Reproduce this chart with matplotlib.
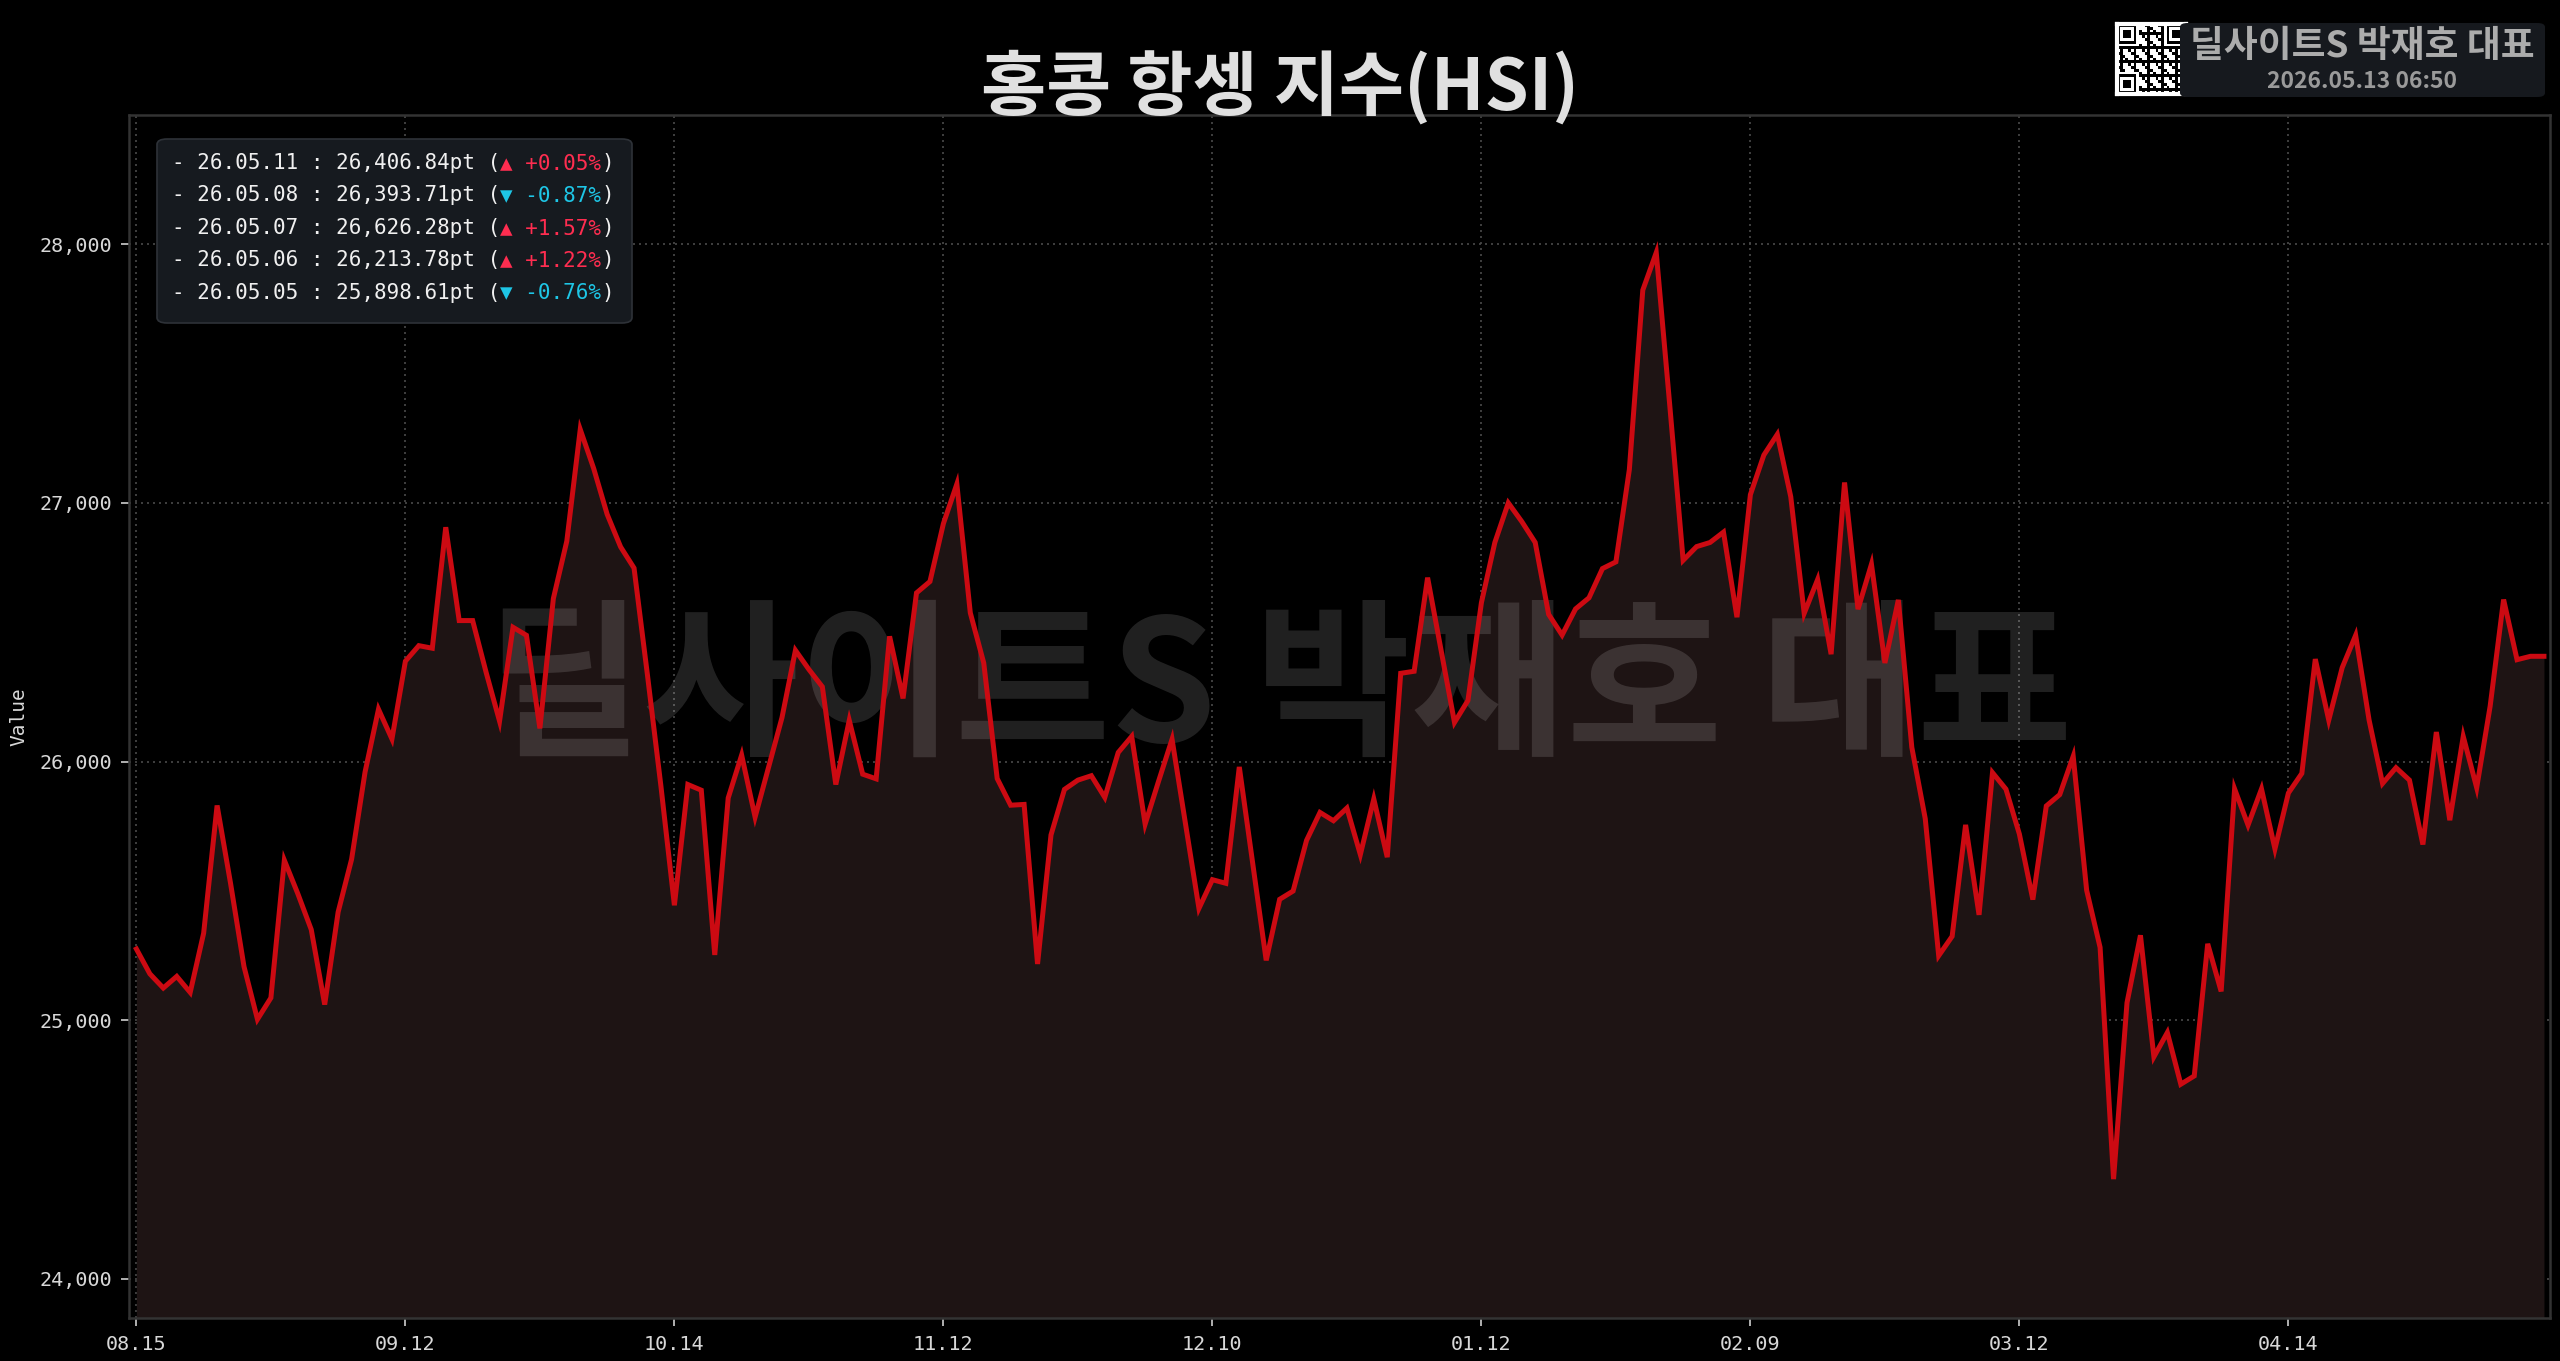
import numpy as np
import matplotlib
matplotlib.use("Agg")
import matplotlib.pyplot as plt
from matplotlib.patches import FancyBboxPatch
from matplotlib.text import Annotation

# ---------------- data ----------------
hsi_values = [
    25275, 25179, 25124, 25169, 25107, 25336, 25830, 25529, 25207, 25003,
    25086, 25618, 25489, 25350, 25060, 25418, 25622, 25959, 26202, 26087,
    26388, 26448, 26438, 26906, 26545, 26545, 26345, 26156, 26519, 26488,
    26128, 26630, 26852, 27284, 27133, 26956, 26830, 26748, 26333, 25904,
    25444, 25911, 25889, 25252, 25859, 26025, 25785, 25978, 26170, 26430,
    26356, 26289, 25911, 26159, 25951, 25933, 26484, 26244, 26652, 26696,
    26920, 27073, 26575, 26381, 25934, 25831, 25834, 25217, 25716, 25892,
    25928, 25945, 25861, 26035, 26097, 25758, 25924, 26086, 25759, 25432,
    25543, 25529, 25979, 25605, 25231, 25467, 25499, 25695, 25803, 25771,
    25820, 25640, 25855, 25630, 26341, 26349, 26711, 26430, 26151, 26236,
    26614, 26847, 27000, 26928, 26847, 26569, 26489, 26590, 26633, 26746,
    26772, 27129, 27823, 27968, 27380, 26778, 26831, 26847, 26887, 26558,
    27032, 27185, 27265, 27024, 26573, 26704, 26415, 27079, 26589, 26763,
    26381, 26625, 26055, 25779, 25249, 25324, 25755, 25407, 25957, 25893,
    25719, 25466, 25828, 25872, 26020, 25502, 25281, 24385, 25067, 25328,
    24858, 24952, 24752, 24784, 25295, 25111, 25894, 25754, 25894, 25662,
    25878, 25954, 26396, 26160, 26363, 26488, 26160, 25915, 25976, 25928,
    25679, 26114, 25773, 26097, 25898.61, 26213.78, 26626.28, 26393.71, 26406.84, 26406.84,
]
x_tick_labels = ['08.15', '09.12', '10.14', '11.12', '12.10', '01.12', '02.09', '03.12', '04.14']
x_tick_step = 20
y_ticks = [24000, 25000, 26000, 27000, 28000]

recent_dates = ['26.05.11', '26.05.08', '26.05.07', '26.05.06', '26.05.05']
recent_values = [26406.84, 26393.71, 26626.28, 26213.78, 25898.61]
recent_pct = [0.05, -0.87, 1.57, 1.22, -0.76]

title_text = '홍콩 항셍 지수(HSI)'
brand_text = '딜사이트S 박재호 대표'
stamp_text = '2026.05.13 06:50'

# ---------------- style ----------------
W, H = 2560, 1361
BG = '#000000'
LINE = '#cc0a12'
FILL = '#1e1414'
TXT = '#d8d8d8'
UP = '#ff2d50'
DOWN = '#1ec6e6'
KR = ['Noto Sans CJK KR', 'DejaVu Sans']
MONO = ['DejaVu Sans Mono', 'DejaVu Sans']

def fx(px):
    return px / W

def fy(py):
    return 1 - py / H

fig = plt.figure(figsize=(W / 100, H / 100), dpi=100, facecolor=BG)

ax_l, ax_r, ax_t, ax_b = 129, 2550, 114.5, 1318
ax = fig.add_axes([fx(ax_l), fy(ax_b), fx(ax_r - ax_l), (ax_b - ax_t) / H])
ax.set_facecolor(BG)

x = np.arange(len(hsi_values))
y = np.array(hsi_values, dtype=float)
ymin, ymax = 23848, 28502

ax.fill_between(x, y, ymin, color=FILL, zorder=1, linewidth=0)
ax.plot(x, y, color=LINE, lw=3.6, zorder=3, solid_joinstyle='miter')

ax.set_xlim(-0.55, len(x) - 1 + 0.45)
ax.set_ylim(ymin, ymax)

tick_pos = np.arange(0, len(x_tick_labels) * x_tick_step, x_tick_step)
ax.set_xticks(tick_pos)
ax.set_xticklabels(x_tick_labels)
ax.set_yticks(y_ticks)
ax.set_yticklabels([f'{v:,}' for v in y_ticks])

for lab in ax.get_xticklabels() + ax.get_yticklabels():
    lab.set_fontfamily(MONO)
    lab.set_fontsize(14.5)
    lab.set_color(TXT)

ax.tick_params(axis='both', direction='out', length=6, width=1.2, color='#cfcfcf', pad=6)
ax.grid(True, color='#4a4a4a', linestyle=(0, (1.2, 2.4)), linewidth=1.2, zorder=0)
ax.set_axisbelow(True)
for s in ax.spines.values():
    s.set_color('#333333')
    s.set_linewidth(1.8)

ax.set_ylabel('Value', fontfamily=MONO, fontsize=14, color=TXT)
ax.yaxis.set_label_coords((28 - ax_l) / (ax_r - ax_l), 0.5)

# watermark
ax.text(0.5, 0.491, brand_text, transform=fig.transFigure, ha='center', va='center',
        fontsize=122, fontweight='bold', fontfamily=KR, color='white', alpha=0.13,
        zorder=2, clip_on=False)

# title
fig.text(0.5, fy(87), title_text, ha='center', va='center', fontsize=51,
         fontweight='bold', fontfamily=KR, color='#e0e0e0')

# badge
badge = FancyBboxPatch((fx(2180), fy(97)), fx(2545 - 2180), (97 - 23) / H,
                       boxstyle='round,pad=0,rounding_size=0.003',
                       transform=fig.transFigure, facecolor='#16191e', edgecolor='none')
fig.patches.append(badge)
fig.text(fx(2362), fy(47), brand_text, ha='center', va='center', fontsize=26.5,
         fontweight='bold', fontfamily=KR, color='#acacac')
fig.text(fx(2362), fy(81), stamp_text, ha='center', va='center', fontsize=16.5,
         fontweight='bold', fontfamily=KR, color='#9a9a9a')

# QR-like emblem (decorative)
n = 25
qr = np.zeros((n, n))
ii, jj = np.mgrid[0:n, 0:n]
qr[((ii * 7 + jj * 11 + ii * jj * 3) % 5) < 2] = 1
def finder(r, c):
    qr[r:r + 7, c:c + 7] = 1
    qr[r + 1:r + 6, c + 1:c + 6] = 0
    qr[r + 2:r + 5, c + 2:c + 5] = 1
for r, c in [(0, 0), (0, n - 7), (n - 7, 0)]:
    qr[max(r - 1, 0):r + 8, max(c - 1, 0):c + 8] = 0
    finder(r, c)
ax_qr = fig.add_axes([fx(2117), fy(94), fx(2186 - 2117), (94 - 24) / H])
ax_qr.imshow(qr, cmap='gray_r', interpolation='nearest', aspect='auto')
ax_qr.set_xticks([]); ax_qr.set_yticks([])
for s in ax_qr.spines.values():
    s.set_color('white'); s.set_linewidth(3)

# recent values box
box = FancyBboxPatch((fx(157), fy(323)), fx(632 - 157), (323 - 139) / H,
                     boxstyle='round,pad=0,rounding_size=0.004',
                     transform=fig.transFigure, facecolor='#161a1f',
                     edgecolor='#2e3238', linewidth=1.2, zorder=5)
fig.patches.append(box)

for k, (d, v, p) in enumerate(zip(recent_dates, recent_values, recent_pct)):
    yy = fy(163 + 32.4 * k)
    t1 = fig.text(fx(172), yy, f'- {d} : {v:,.2f}pt (', ha='left', va='center',
                  fontsize=15, fontfamily=MONO, color='#f0f0f0', zorder=6)
    col = UP if p >= 0 else DOWN
    sym = '▲' if p >= 0 else '▼'
    a2 = Annotation(f'{sym} {p:+.2f}%', xy=(1, 0), xycoords=t1, ha='left', va='bottom',
                    fontsize=15, fontfamily=MONO, color=col, annotation_clip=False)
    a2.set_zorder(6)
    fig.add_artist(a2)
    a3 = Annotation(')', xy=(1, 0), xycoords=a2, ha='left', va='bottom',
                    fontsize=15, fontfamily=MONO, color='#f0f0f0', annotation_clip=False)
    a3.set_zorder(6)
    fig.add_artist(a3)

fig.savefig('out.png', dpi=100, facecolor=BG)
